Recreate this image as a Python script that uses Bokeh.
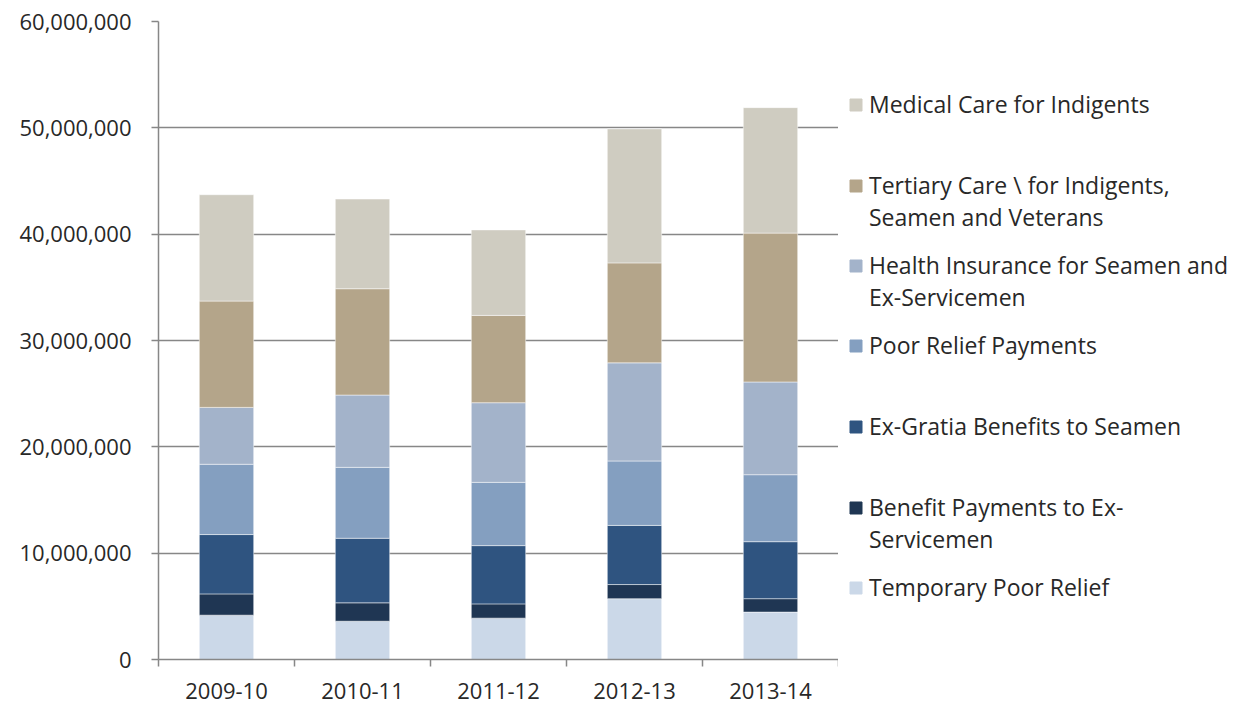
from bokeh.plotting import figure
from bokeh.layouts import row
from bokeh.models import FixedTicker, Legend, LegendItem, NumeralTickFormatter, Range1d, ColumnDataSource
from bokeh.embed import file_html
from bokeh.resources import INLINE

years = ["2009-10", "2010-11", "2011-12", "2012-13", "2013-14"]
temporary_poor_relief = [4170000, 3600000, 3890000, 5720000, 4460000]
benefit_payments_ex_servicemen = [2000000, 1730000, 1340000, 1330000, 1260000]
ex_gratia_seamen = [5580000, 6070000, 5480000, 5560000, 5360000]
poor_relief_payments = [6610000, 6670000, 5950000, 6060000, 6300000]
health_insurance = [5350000, 6800000, 7490000, 9230000, 8720000]
tertiary_care = [10000000, 10000000, 8210000, 9400000, 14000000]
medical_care = [10000000, 8430000, 8040000, 12600000, 11800000]

series_keys = ["temp", "benefit", "exgratia", "poor", "health", "tertiary", "medical"]
# leading newline on two-line labels keeps the swatch level with the first line
series_labels = [
    "Temporary Poor Relief",
    "\nBenefit Payments to Ex-\nServicemen",
    "Ex-Gratia Benefits to Seamen",
    "Poor Relief Payments",
    "\nHealth Insurance for Seamen and\nEx-Servicemen",
    "\nTertiary Care \\ for Indigents,\nSeamen and Veterans",
    "Medical Care for Indigents",
]
colors = ["#CBD8E8", "#1F3653", "#2F5480", "#849FC0", "#A3B3CA", "#B4A58A", "#CFCCC1"]
y_ticks = [0, 10000000, 20000000, 30000000, 40000000, 50000000, 60000000]

FONT = "Open Sans"
TEXT = "#282828"
GRID = "#878787"
TOTAL_H = 706

centers = [i + 0.5 for i in range(len(years))]
source = ColumnDataSource(dict(
    x=centers,
    temp=temporary_poor_relief,
    benefit=benefit_payments_ex_servicemen,
    exgratia=ex_gratia_seamen,
    poor=poor_relief_payments,
    health=health_insurance,
    tertiary=tertiary_care,
    medical=medical_care,
))

p = figure(frame_width=680, frame_height=638,
           x_range=Range1d(0, len(years)), y_range=Range1d(0, 60000000),
           output_backend="svg", toolbar_location=None,
           min_border_left=158, min_border_top=21, min_border_bottom=47, min_border_right=0)
p.outline_line_color = None
p.background_fill_color = "white"
p.border_fill_color = "white"

renderers = p.vbar_stack(series_keys, x="x", width=0.4, color=colors, source=source,
                         line_color="white", line_alpha=0.6, line_width=0.8)

# y axis
yax = p.yaxis[0]
yax.ticker = FixedTicker(ticks=y_ticks, minor_ticks=[])
yax.formatter = NumeralTickFormatter(format="0,0")
yax.major_tick_out = 7
yax.major_tick_in = 0
yax.minor_tick_out = 0
yax.minor_tick_in = 0
yax.axis_line_color = GRID
yax.axis_line_width = 1.5
yax.major_tick_line_color = GRID
yax.major_tick_line_width = 1.5
yax.major_label_text_font = FONT
yax.major_label_text_font_size = "22px"
yax.major_label_text_color = TEXT
yax.major_label_standoff = 20

# x axis
xax = p.xaxis[0]
xax.ticker = FixedTicker(ticks=centers, minor_ticks=list(range(len(years) + 1)))
xax.major_label_overrides = {c: y for c, y in zip(centers, years)}
xax.major_tick_out = 0
xax.major_tick_in = 0
xax.minor_tick_out = 7
xax.minor_tick_in = 0
xax.minor_tick_line_color = GRID
xax.minor_tick_line_width = 1.5
xax.axis_line_color = GRID
xax.axis_line_width = 1.5
xax.major_label_text_font = FONT
xax.major_label_text_font_size = "22px"
xax.major_label_text_color = TEXT
xax.major_label_standoff = 16

p.xgrid.grid_line_color = None
p.ygrid.grid_line_color = GRID
p.ygrid.grid_line_width = 1.5
p.ygrid.ticker = FixedTicker(ticks=y_ticks)

# legend panel: a separate blank figure so that each entry can sit at an even pitch
leg_fig = figure(width=403, height=TOTAL_H, x_range=Range1d(0, 1), y_range=Range1d(0, 1),
                 x_axis_location=None, y_axis_location=None,
                 output_backend="svg", toolbar_location=None, min_border=0)
leg_fig.outline_line_color = None
leg_fig.grid.grid_line_color = None
leg_fig.background_fill_color = "white"
leg_fig.border_fill_color = "white"

ITEM_H = 96
FIRST_CENTER = 104   # swatch centre of the first entry, from page top
PITCH = 80.5
Y_FIX = 47
for k, i in enumerate(reversed(range(len(series_keys)))):
    # hidden copy of the series, only used to give the legend entry its swatch
    swatch = leg_fig.vbar(x="x", top=series_keys[i], width=0.4, color=colors[i],
                          source=source, visible=False)
    center_from_top = FIRST_CENTER + k * PITCH
    lg = Legend(items=[LegendItem(label=series_labels[i], renderers=[swatch])],
                location=(10, round(TOTAL_H - center_from_top - ITEM_H / 2 - Y_FIX)),
                orientation="vertical",
                glyph_width=15, glyph_height=15, label_standoff=6,
                label_height=ITEM_H, spacing=0, padding=0, margin=0,
                border_line_color=None, background_fill_alpha=0,
                inactive_fill_alpha=0,
                label_text_font=FONT, label_text_font_size="23px", label_text_color=TEXT)
    leg_fig.add_layout(lg, "center")

layout = row(p, leg_fig, spacing=0)
open("out.html", "w").write(file_html(layout, INLINE))
